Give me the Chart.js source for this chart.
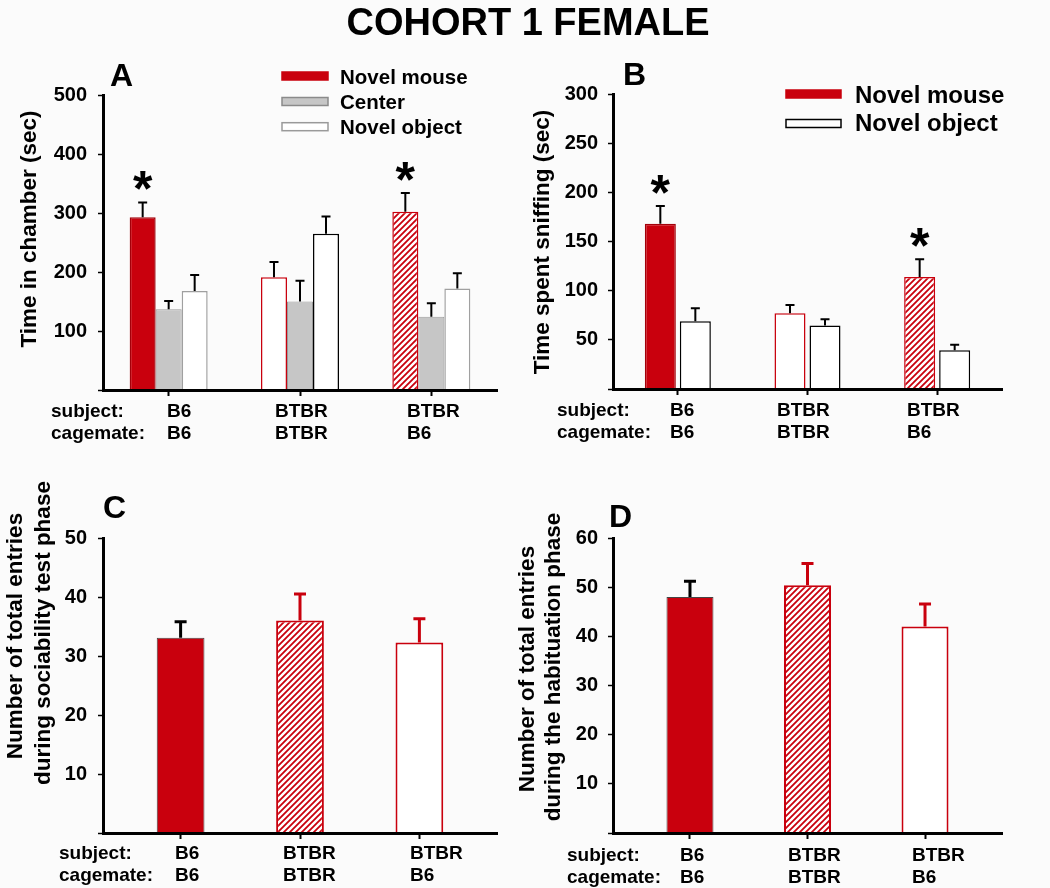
<!DOCTYPE html>
<html>
<head>
<meta charset="utf-8">
<script src="https://cdn.jsdelivr.net/npm/chart.js@4.4.1/dist/chart.umd.min.js"></script>
<style>
  html, body { margin: 0; padding: 0; background: #fbfbfb; }
  #wrap { position: relative; width: 1050px; height: 888px; }
  #wrap canvas { position: absolute; left: 0; top: 0; }
</style>
</head>
<body>
<div id="wrap">
  <canvas id="chartA" width="1050" height="888"></canvas>
  <canvas id="chartB" width="1050" height="888"></canvas>
  <canvas id="chartC" width="1050" height="888"></canvas>
  <canvas id="chartD" width="1050" height="888"></canvas>
</div>
<script>
// groups (x axis)
const subjects = ["B6", "BTBR", "BTBR"];
const cagemates = ["B6", "BTBR", "B6"];

// A: time in chamber (sec)
const chamberMouse = [293, 191, 302];
const chamberMouseErr = [25, 26, 32];
const chamberCenter = [137, 150, 124];
const chamberCenterErr = [14, 35, 23];
const chamberObject = [168, 265, 172];
const chamberObjectErr = [27, 29, 26];

// B: time spent sniffing (sec)
const sniffMouse = [168, 77, 114];
const sniffMouseErr = [18, 8.5, 18];
const sniffObject = [69, 64.5, 39.5];
const sniffObjectErr = [13, 6.5, 5.5];

// C: entries during sociability test phase
const sociabilityEntries = [33.1, 36.0, 32.3];
const sociabilityErr = [2.7, 4.5, 4.0];

// D: entries during habituation phase
const habituationEntries = [48.0, 50.4, 42.0];
const habituationErr = [3.2, 4.4, 4.6];

const FONT = "'Liberation Sans', Arial, sans-serif";
const RED = "#c9000d";
const GRAY = "#c6c6c6";

function makeHatch(color) {
  const n = 6;
  const c = document.createElement("canvas");
  c.width = n;
  c.height = n;
  const g = c.getContext("2d");
  g.fillStyle = "#fff";
  g.fillRect(0, 0, n, n);
  g.strokeStyle = color;
  g.lineWidth = 1.8;
  g.beginPath();
  g.moveTo(-1, n + 1); g.lineTo(n + 1, -1);
  g.moveTo(-1, 1); g.lineTo(1, -1);
  g.moveTo(n - 1, n + 1); g.lineTo(n + 1, n - 1);
  g.stroke();
  return g.createPattern(c, "repeat");
}
const hatch = makeHatch(RED);

// error bars, asterisks, legend boxes and free text
const extrasPlugin = {
  id: "extras",
  afterDatasetsDraw(chart, args, opts) {
    const ctx = chart.ctx;
    const yScale = chart.scales.y;
    ctx.save();
    (opts.errors || []).forEach((errs, d) => {
      if (!errs) return;
      const meta = chart.getDatasetMeta(d);
      const values = chart.data.datasets[d].data;
      meta.data.forEach((bar, i) => {
        const v = typeof values[i] === "object" ? values[i].y : values[i];
        const top = yScale.getPixelForValue(v + errs[i]);
        ctx.strokeStyle = Array.isArray(opts.errColor) ? opts.errColor[i] : opts.errColor;
        ctx.lineWidth = opts.errWidth;
        ctx.beginPath();
        ctx.moveTo(bar.x, bar.y);
        ctx.lineTo(bar.x, top);
        ctx.moveTo(bar.x - opts.capWidth / 2, top);
        ctx.lineTo(bar.x + opts.capWidth / 2, top);
        ctx.stroke();
      });
    });
    (opts.stars || []).forEach(([d, i]) => {
      const bar = chart.getDatasetMeta(d).data[i];
      const v = chart.data.datasets[d].data[i];
      const top = yScale.getPixelForValue(v + opts.errors[d][i]);
      ctx.font = "bold 50px " + FONT;
      ctx.fillStyle = "#000";
      ctx.textAlign = "center";
      ctx.textBaseline = "alphabetic";
      ctx.fillText("*", bar.x, top + 4);
    });
    ctx.restore();
  },
  afterDraw(chart, args, opts) {
    const ctx = chart.ctx;
    const lg = opts.legend;
    if (lg) {
      lg.items.forEach((it, k) => {
        const ds = chart.data.datasets[it.dataset];
        ctx.save();
        ctx.fillStyle = it.fill;
        ctx.fillRect(lg.x, lg.centers[k] - lg.h / 2, lg.w, lg.h);
        ctx.strokeStyle = it.stroke;
        ctx.lineWidth = 1.5;
        ctx.strokeRect(lg.x, lg.centers[k] - lg.h / 2, lg.w, lg.h);
        ctx.font = lg.font;
        ctx.fillStyle = "#000";
        ctx.textAlign = "left";
        ctx.textBaseline = "alphabetic";
        ctx.fillText(ds.label, lg.textX, lg.baselines[k]);
        ctx.restore();
      });
    }
    (opts.texts || []).forEach((t) => {
      ctx.save();
      ctx.font = t.font;
      ctx.fillStyle = "#000";
      if (t.rotate) {
        ctx.translate(t.x, t.y);
        ctx.rotate(-Math.PI / 2);
        ctx.textAlign = "center";
        ctx.textBaseline = "middle";
        ctx.fillText(t.text, 0, 0);
      } else {
        ctx.textAlign = t.align || "left";
        ctx.textBaseline = "alphabetic";
        ctx.fillText(t.text, t.x, t.y);
      }
      ctx.restore();
    });
  },
};

function groupLabels(labelX, colX, base1, base2) {
  const f = "bold 19px " + FONT;
  const out = [
    { text: "subject:", x: labelX, y: base1, font: f },
    { text: "cagemate:", x: labelX, y: base2, font: f },
  ];
  subjects.forEach((s, i) => {
    out.push({ text: s, x: colX[i], y: base1, font: f });
    out.push({ text: cagemates[i], x: colX[i], y: base2, font: f });
  });
  return out;
}

function valueAxis(max, step, width, pad) {
  return {
    min: 0,
    max: max,
    afterFit: (s) => { s.width = width; },
    ticks: {
      stepSize: step,
      padding: pad,
      color: "#000",
      font: { size: 20, weight: "bold", family: FONT },
      callback: (v) => (v === 0 ? "" : v),
    },
    grid: { drawOnChartArea: false, drawTicks: true, tickLength: 5, tickColor: "#000", tickWidth: 1.5 },
    border: { display: true, color: "#000", width: 3, z: 1 },
  };
}

function categoryAxis() {
  return {
    type: "category",
    offset: true,
    afterFit: (s) => { s.height = 10; },
    ticks: { display: false },
    grid: { offset: false, drawOnChartArea: false, drawTicks: true, tickLength: 6, tickColor: "#000", tickWidth: 2 },
    border: { display: true, color: "#000", width: 3, z: 1 },
  };
}

function linearIndexAxis(min, max) {
  return {
    type: "linear",
    min: min,
    max: max,
    offset: false,
    afterBuildTicks: (s) => { s.ticks = subjects.map((_, i) => ({ value: i })); },
    afterFit: (s) => { s.height = 10; },
    ticks: { display: false },
    grid: { offset: false, drawOnChartArea: false, drawTicks: true, tickLength: 6, tickColor: "#000", tickWidth: 2 },
    border: { display: true, color: "#000", width: 3, z: 1 },
  };
}

const common = {
  responsive: false,
  animation: false,
  events: [],
};

// Panel A
new Chart(document.getElementById("chartA"), {
  type: "bar",
  data: {
    labels: subjects.map((s, i) => s + "/" + cagemates[i]),
    datasets: [
      { label: "Novel mouse", data: chamberMouse, backgroundColor: [RED, "#fff", hatch], borderColor: ["#a3000a", RED, RED], borderWidth: 1.5 },
      { label: "Center", data: chamberCenter, backgroundColor: GRAY, borderColor: "#9a9a9a", borderWidth: 1 },
      { label: "Novel object", data: chamberObject, backgroundColor: "#fff", borderColor: ["#a0a0a0", "#000", "#a0a0a0"], borderWidth: 1.5 },
    ],
  },
  options: {
    ...common,
    layout: { padding: { left: 0, top: 95, right: 553, bottom: 488 } },
    datasets: { bar: { categoryPercentage: 0.594, barPercentage: 1 } },
    scales: { x: categoryAxis(), y: valueAxis(500, 100, 103, 11) },
    plugins: {
      legend: { display: false },
      tooltip: { enabled: false },
      extras: {
        errors: [chamberMouseErr, chamberCenterErr, chamberObjectErr],
        errColor: "#000",
        errWidth: 2,
        capWidth: 9,
        stars: [[0, 0], [0, 2]],
        legend: {
          x: 282, w: 46, h: 8, textX: 340,
          centers: [76, 101.5, 126.7],
          baselines: [84, 109, 134],
          font: "bold 20.5px " + FONT,
          items: [
            { dataset: 0, fill: RED, stroke: RED },
            { dataset: 1, fill: GRAY, stroke: "#8a8a8a" },
            { dataset: 2, fill: "#fff", stroke: "#9a9a9a" },
          ],
        },
        texts: [
          { text: "COHORT 1 FEMALE", x: 528, y: 35, font: "bold 38px " + FONT, align: "center" },
          { text: "A", x: 110, y: 86, font: "bold 32px " + FONT },
          { text: "Time in chamber (sec)", x: 30, y: 229, font: "bold 22.5px " + FONT, rotate: true },
          ...groupLabels(51, [167, 275, 407], 417, 439),
        ],
      },
    },
  },
  plugins: [extrasPlugin],
});

// Panel B
new Chart(document.getElementById("chartB"), {
  type: "bar",
  data: {
    labels: subjects.map((s, i) => s + "/" + cagemates[i]),
    datasets: [
      { label: "Novel mouse", data: sniffMouse, backgroundColor: [RED, "#fff", hatch], borderColor: ["#a3000a", RED, RED], borderWidth: 1.5 },
      { label: "Novel object", data: sniffObject, backgroundColor: "#fff", borderColor: "#000", borderWidth: 1.5 },
    ],
  },
  options: {
    ...common,
    layout: { padding: { left: 0, top: 94, right: 1050 - 1002, bottom: 888 - 389 - 10 } },
    datasets: { bar: { categoryPercentage: 0.54, barPercentage: 0.886 } },
    scales: { x: categoryAxis(), y: valueAxis(300, 50, 613, 10) },
    plugins: {
      legend: { display: false },
      tooltip: { enabled: false },
      extras: {
        errors: [sniffMouseErr, sniffObjectErr],
        errColor: "#000",
        errWidth: 2,
        capWidth: 9,
        stars: [[0, 0], [0, 2]],
        legend: {
          x: 786, w: 55, h: 8, textX: 855,
          centers: [94, 123.5],
          baselines: [103, 131],
          font: "bold 24px " + FONT,
          items: [
            { dataset: 0, fill: RED, stroke: RED },
            { dataset: 1, fill: "#fff", stroke: "#000" },
          ],
        },
        texts: [
          { text: "B", x: 623, y: 85, font: "bold 32px " + FONT },
          { text: "Time spent sniffing (sec)", x: 543, y: 242, font: "bold 22.5px " + FONT, rotate: true },
          ...groupLabels(557, [670, 777, 907], 416, 438),
        ],
      },
    },
  },
  plugins: [extrasPlugin],
});

// Panel C
new Chart(document.getElementById("chartC"), {
  type: "bar",
  data: {
    datasets: [
      {
        label: "Sociability test phase",
        data: sociabilityEntries.map((v, i) => ({ x: i, y: v })),
        backgroundColor: [RED, hatch, "#fff"],
        borderColor: ["#444", RED, RED],
        borderWidth: [1, 2, 2],
      },
    ],
  },
  options: {
    ...common,
    layout: { padding: { left: 0, top: 538, right: 1050 - 497, bottom: 888 - 833 - 10 } },
    datasets: { bar: { categoryPercentage: 0.4, barPercentage: 1 } },
    scales: { x: linearIndexAxis(-0.65, 2.65), y: valueAxis(50, 10, 103, 11) },
    plugins: {
      legend: { display: false },
      tooltip: { enabled: false },
      extras: {
        errors: [sociabilityErr],
        errColor: ["#000", RED, RED],
        errWidth: 3,
        capWidth: 12,
        texts: [
          { text: "C", x: 103, y: 518, font: "bold 32px " + FONT },
          { text: "Number of total entries", x: 15.5, y: 636, font: "bold 22.5px " + FONT, rotate: true },
          { text: "during sociability test phase", x: 43.5, y: 633, font: "bold 22.5px " + FONT, rotate: true },
          ...groupLabels(59, [175, 283, 410], 859, 881),
        ],
      },
    },
  },
  plugins: [extrasPlugin],
});

// Panel D
new Chart(document.getElementById("chartD"), {
  type: "bar",
  data: {
    datasets: [
      {
        label: "Habituation phase",
        data: habituationEntries.map((v, i) => ({ x: i, y: v })),
        backgroundColor: [RED, hatch, "#fff"],
        borderColor: ["#444", RED, RED],
        borderWidth: [1, 2, 2],
      },
    ],
  },
  options: {
    ...common,
    layout: { padding: { left: 0, top: 538, right: 1050 - 1002, bottom: 888 - 833 - 10 } },
    datasets: { bar: { categoryPercentage: 0.4, barPercentage: 1 } },
    scales: { x: linearIndexAxis(-0.655, 2.655), y: valueAxis(60, 10, 613, 10) },
    plugins: {
      legend: { display: false },
      tooltip: { enabled: false },
      extras: {
        errors: [habituationErr],
        errColor: ["#000", RED, RED],
        errWidth: 3,
        capWidth: 12,
        texts: [
          { text: "D", x: 609, y: 527, font: "bold 32px " + FONT },
          { text: "Number of total entries", x: 527.5, y: 669, font: "bold 22.5px " + FONT, rotate: true },
          { text: "during the habituation phase", x: 554, y: 667, font: "bold 22.5px " + FONT, rotate: true },
          ...groupLabels(567, [680, 788, 912], 861, 883),
        ],
      },
    },
  },
  plugins: [extrasPlugin],
});
</script>
</body>
</html>
